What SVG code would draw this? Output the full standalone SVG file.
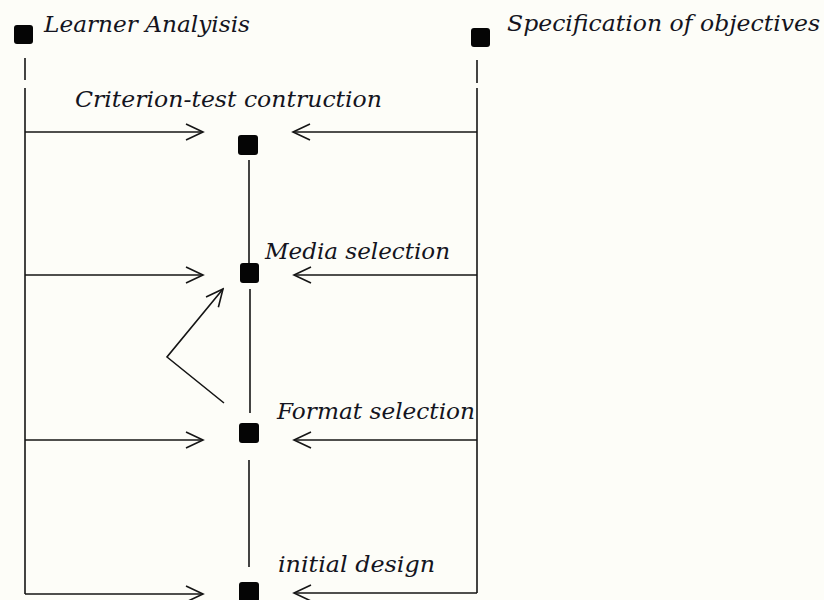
<svg xmlns="http://www.w3.org/2000/svg" width="824" height="600" viewBox="0 0 824 600">
<style>
.lbl{font-family:"DejaVu Serif","Liberation Serif",serif;font-style:italic;font-size:22px;fill:#141420}
.ln{stroke:#151515;stroke-width:1.6;fill:none}
.sq{fill:#050505}
</style>
<defs>
<marker id="ah" viewBox="-20 -10 22 20" refX="0" refY="0" markerWidth="22" markerHeight="20" markerUnits="userSpaceOnUse" orient="auto">
<path d="M-17,-8 L0,0 L-17,8" fill="none" stroke="#151515" stroke-width="1.6"/>
</marker>
</defs>
<rect width="824" height="600" fill="#fdfdf8"/>
<g id="learner-analysis">
<rect class="sq" x="14" y="25" width="19" height="19" rx="3"/>
<text class="lbl" x="44" y="32" textLength="206" lengthAdjust="spacingAndGlyphs">Learner Analyisis</text>
</g>
<g id="specification">
<rect class="sq" x="471" y="28" width="19" height="19" rx="3"/>
<text class="lbl" x="507" y="31" textLength="313" lengthAdjust="spacingAndGlyphs">Specification of objectives</text>
</g>
<g id="criterion-test">
<rect class="sq" x="238" y="135" width="20" height="20" rx="3"/>
<text class="lbl" x="75" y="107" textLength="307" lengthAdjust="spacingAndGlyphs">Criterion-test contruction</text>
</g>
<g id="media-selection">
<rect class="sq" x="240" y="263" width="19" height="20" rx="3"/>
<text class="lbl" x="265" y="259" textLength="185" lengthAdjust="spacingAndGlyphs">Media selection</text>
</g>
<g id="format-selection">
<rect class="sq" x="239" y="423" width="20" height="20" rx="3"/>
<text class="lbl" x="277" y="419" textLength="198" lengthAdjust="spacingAndGlyphs">Format selection</text>
</g>
<g id="initial-design">
<rect class="sq" x="239" y="582" width="20" height="20" rx="3"/>
<text class="lbl" x="278" y="572" textLength="157" lengthAdjust="spacingAndGlyphs">initial design</text>
</g>
<g id="connectors">
<line class="ln" x1="25" y1="58" x2="25" y2="80"/>
<line class="ln" x1="25" y1="88" x2="25" y2="594"/>
<line class="ln" x1="477" y1="60" x2="477" y2="83"/>
<line class="ln" x1="477" y1="88" x2="477" y2="593"/>
<line class="ln" x1="25" y1="132" x2="203" y2="132" marker-end="url(#ah)"/>
<line class="ln" x1="477" y1="132" x2="293" y2="132" marker-end="url(#ah)"/>
<line class="ln" x1="25" y1="275" x2="203" y2="275" marker-end="url(#ah)"/>
<line class="ln" x1="477" y1="275" x2="294" y2="275" marker-end="url(#ah)"/>
<line class="ln" x1="25" y1="440" x2="203" y2="440" marker-end="url(#ah)"/>
<line class="ln" x1="477" y1="440" x2="294" y2="440" marker-end="url(#ah)"/>
<line class="ln" x1="25" y1="594" x2="203" y2="594" marker-end="url(#ah)"/>
<line class="ln" x1="477" y1="593" x2="294" y2="593" marker-end="url(#ah)"/>
<line class="ln" x1="249" y1="160" x2="249" y2="263"/>
<line class="ln" x1="250" y1="289" x2="250" y2="413"/>
<line class="ln" x1="249" y1="460" x2="249" y2="567"/>
<path class="ln" d="M224,403 L167,357 L223,289" marker-end="url(#ah)"/>
</g>
</svg>
